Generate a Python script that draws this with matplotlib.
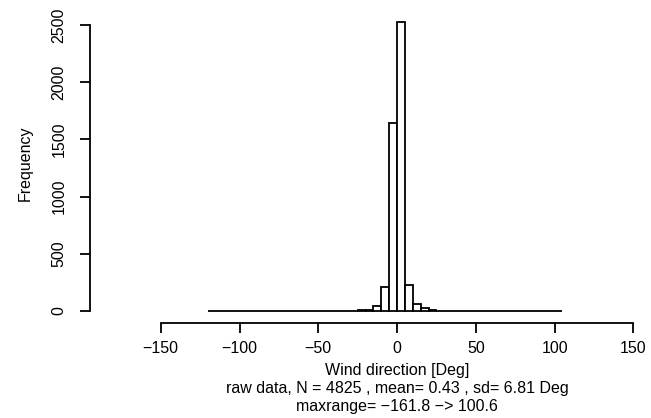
import numpy as np
import matplotlib
matplotlib.use("Agg")
import matplotlib.pyplot as plt

plt.rcParams['font.family'] = ['Liberation Sans', 'DejaVu Sans']

# histogram bins (5 deg wide) and counts
bin_left = np.arange(-120, 105, 5)
counts = np.zeros(len(bin_left))
known = {
    -35: 2, -30: 4, -25: 6, -20: 10, -15: 47, -10: 208, -5: 1641,
    0: 2527, 5: 229, 10: 62, 15: 23, 20: 8, 25: 4, 30: 3, 35: 1,
}
for left, c in known.items():
    counts[bin_left == left] = c

x_ticks = [-150, -100, -50, 0, 50, 100, 150]
y_ticks = [0, 500, 1000, 1500, 2000, 2500]

fig = plt.figure(figsize=(6.51, 4.18), dpi=100)
ax = fig.add_axes([90 / 651, 95.5 / 418, 561 / 651, 312.5 / 418])

ax.bar(bin_left, counts, width=5, align='edge', facecolor='white',
       edgecolor='black', linewidth=1.3)

ax.set_xlim(-194.9, 161.2)
ax.set_ylim(-100, 2631)

for s in ['top', 'right']:
    ax.spines[s].set_visible(False)
ax.spines['left'].set_bounds(0, 2500)
ax.spines['bottom'].set_bounds(-150, 150)
for s in ['left', 'bottom']:
    ax.spines[s].set_linewidth(1.3)

ax.set_xticks(x_ticks)
ax.set_xticklabels([str(t).replace('-', '\u2212') for t in x_ticks])
ax.set_yticks(y_ticks)
ax.set_yticklabels([str(t) for t in y_ticks], rotation=90, va='center')
ax.tick_params(axis='both', length=7, width=1.3, labelsize=11.5, pad=6)
ax.tick_params(axis='y', pad=10)

fig.text(25 / 651, 1 - 163 / 418, 'Frequency', rotation=90,
         ha='center', va='center', fontsize=11.5)
fig.text(397 / 651, 1 - 370 / 418, 'Wind direction [Deg]',
         ha='center', va='center', fontsize=11.5)
fig.text(397 / 651, 1 - 389 / 418,
         'raw data, N = 4825 , mean= 0.43 , sd= 6.81 Deg',
         ha='center', va='center', fontsize=11.5)
fig.text(397 / 651, 1 - 406.7 / 418, 'maxrange= \u2212161.8 \u2212> 100.6',
         ha='center', va='center', fontsize=11.5)

fig.savefig('out.png', dpi=100)
